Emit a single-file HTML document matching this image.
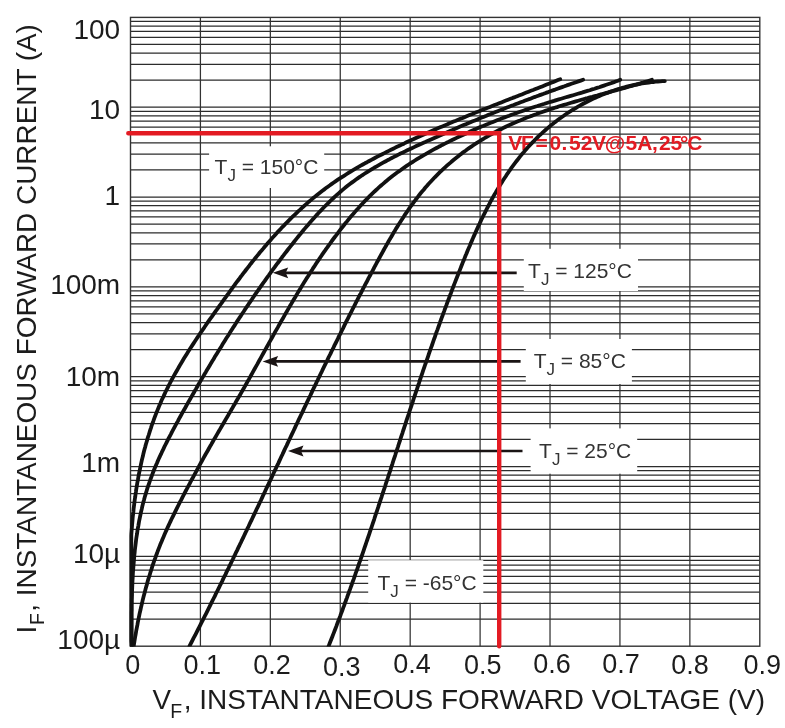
<!DOCTYPE html>
<html><head><meta charset="utf-8"><title>Forward characteristics</title>
<style>html,body{margin:0;padding:0;background:#fff;}svg{display:block;}</style>
</head><body>
<svg width="785" height="728" viewBox="0 0 785 728">
<rect x="0" y="0" width="785" height="728" fill="#fff"/>
<path d="M130.5,80.14H759.8M130.5,64.32H759.8M130.5,53.10H759.8M130.5,44.39H759.8M130.5,37.28H759.8M130.5,31.26H759.8M130.5,26.06H759.8M130.5,21.46H759.8M130.5,169.97H759.8M130.5,154.15H759.8M130.5,142.93H759.8M130.5,134.22H759.8M130.5,127.11H759.8M130.5,121.09H759.8M130.5,115.89H759.8M130.5,111.29H759.8M130.5,107.18H759.8M130.5,259.80H759.8M130.5,243.98H759.8M130.5,232.76H759.8M130.5,224.05H759.8M130.5,216.94H759.8M130.5,210.92H759.8M130.5,205.72H759.8M130.5,201.12H759.8M130.5,197.01H759.8M130.5,349.63H759.8M130.5,333.81H759.8M130.5,322.59H759.8M130.5,313.88H759.8M130.5,306.77H759.8M130.5,300.75H759.8M130.5,295.55H759.8M130.5,290.95H759.8M130.5,286.84H759.8M130.5,439.46H759.8M130.5,423.64H759.8M130.5,412.42H759.8M130.5,403.71H759.8M130.5,396.60H759.8M130.5,390.58H759.8M130.5,385.38H759.8M130.5,380.78H759.8M130.5,376.67H759.8M130.5,529.29H759.8M130.5,513.47H759.8M130.5,502.25H759.8M130.5,493.54H759.8M130.5,486.43H759.8M130.5,480.41H759.8M130.5,475.21H759.8M130.5,470.61H759.8M130.5,466.50H759.8M130.5,619.12H759.8M130.5,603.30H759.8M130.5,592.08H759.8M130.5,583.37H759.8M130.5,576.26H759.8M130.5,570.24H759.8M130.5,565.04H759.8M130.5,560.44H759.8M130.5,556.33H759.8" stroke="#2c2c2c" stroke-width="1.25" fill="none"/>
<path d="M200.42,17.4V646.2M270.34,17.4V646.2M340.26,17.4V646.2M410.18,17.4V646.2M480.10,17.4V646.2M550.02,17.4V646.2M619.94,17.4V646.2M689.86,17.4V646.2" stroke="#333" stroke-width="1.25" fill="none"/>
<rect x="130.5" y="17.4" width="629.3" height="628.8" stroke="#333" stroke-width="1.4" fill="none"/>
<rect x="209.1" y="146.3" width="115.1" height="41.7" fill="#fff"/>
<rect x="523.8" y="248.8" width="114.2" height="42.2" fill="#fff"/>
<rect x="525.8" y="339" width="106.1" height="45.0" fill="#fff"/>
<rect x="530.6" y="428.4" width="106.6" height="45.3" fill="#fff"/>
<rect x="368.2" y="560.2" width="115.1" height="42.4" fill="#fff"/>
<text x="508.3 520.9 535.5 549.5 561.6 568.9 580.7 591.9 604.8 625.6 637.2 651.9 659.1 670.4 680.0 687.3" y="150.3" font-family="Liberation Sans, sans-serif" font-weight="bold" font-size="21.0" fill="#e31b23">VF=0.52V@5A,25°C</text>
<defs><clipPath id="pc"><rect x="120" y="0" width="660" height="646.6"/></clipPath></defs>
<g clip-path="url(#pc)">
<path d="M131.6,645.8 L131.5,643.4 L131.3,641.0 L131.3,638.6 L131.3,636.2 L131.3,633.8 L131.3,631.4 L131.3,629.0 L131.3,626.6 L131.3,624.2 L131.3,621.8 L131.3,619.4 L131.3,617.0 L131.3,614.5 L131.3,612.1 L131.3,609.7 L131.3,607.3 L131.3,604.8 L131.3,602.4 L131.3,599.9 L131.3,597.5 L131.3,595.0 L131.3,592.6 L131.3,590.2 L131.3,587.7 L131.3,585.2 L131.3,582.8 L131.3,580.3 L131.3,577.9 L131.3,575.4 L131.3,573.0 L131.3,570.5 L131.3,568.0 L131.3,565.6 L131.3,563.1 L131.3,560.7 L131.3,558.2 L131.3,555.7 L131.3,553.3 L131.3,550.8 L131.3,548.3 L131.3,545.9 L131.3,543.4 L131.3,541.0 L131.3,538.5 L131.3,536.0 L131.4,533.6 L131.6,531.1 L131.8,528.7 L132.0,526.2 L132.2,523.7 L132.4,521.3 L132.6,518.8 L132.8,516.4 L133.1,513.9 L133.4,511.5 L133.6,509.1 L133.9,506.6 L134.2,504.2 L134.5,501.7 L134.8,499.3 L135.2,496.9 L135.5,494.4 L135.9,492.0 L136.2,489.6 L136.6,487.2 L137.0,484.8 L137.4,482.3 L137.9,479.9 L138.3,477.5 L138.7,475.1 L139.2,472.7 L139.7,470.3 L140.2,467.9 L140.7,465.6 L141.2,463.2 L141.7,460.8 L142.3,458.4 L142.9,456.1 L143.4,453.7 L144.0,451.3 L144.6,449.0 L145.3,446.6 L145.9,444.3 L146.6,442.0 L147.3,439.6 L147.9,437.3 L148.7,435.0 L149.4,432.7 L150.1,430.4 L150.9,428.1 L151.6,425.8 L152.4,423.5 L153.3,421.2 L154.1,418.9 L154.9,416.7 L155.8,414.4 L156.7,412.1 L157.6,409.9 L158.5,407.7 L159.4,405.4 L160.4,403.2 L161.3,401.0 L162.3,398.8 L163.4,396.6 L164.4,394.4 L165.4,392.2 L166.5,390.0 L167.6,387.8 L168.7,385.7 L169.8,383.5 L170.9,381.4 L172.0,379.2 L173.2,377.1 L174.4,374.9 L175.6,372.8 L176.8,370.7 L178.0,368.6 L179.2,366.5 L180.4,364.4 L181.7,362.3 L182.9,360.2 L184.2,358.1 L185.5,356.0 L186.8,353.9 L188.1,351.8 L189.4,349.8 L190.7,347.7 L192.1,345.6 L193.4,343.6 L194.8,341.5 L196.1,339.5 L197.5,337.4 L198.9,335.4 L200.2,333.4 L201.6,331.3 L203.0,329.3 L204.4,327.3 L205.8,325.2 L207.2,323.2 L208.6,321.2 L210.0,319.2 L211.5,317.2 L212.9,315.1 L214.3,313.1 L215.7,311.1 L217.2,309.1 L218.6,307.1 L220.0,305.1 L221.5,303.1 L222.9,301.1 L224.3,299.1 L225.8,297.1 L227.2,295.1 L228.7,293.1 L230.1,291.1 L231.6,289.1 L233.0,287.2 L234.5,285.2 L235.9,283.2 L237.4,281.2 L238.9,279.3 L240.3,277.3 L241.8,275.4 L243.3,273.4 L244.8,271.5 L246.3,269.5 L247.8,267.6 L249.3,265.7 L250.8,263.7 L252.3,261.8 L253.9,259.9 L255.4,258.0 L256.9,256.1 L258.5,254.2 L260.0,252.3 L261.6,250.5 L263.2,248.6 L264.7,246.7 L266.3,244.9 L267.9,243.0 L269.5,241.2 L271.1,239.4 L272.7,237.5 L274.4,235.7 L276.0,233.9 L277.6,232.1 L279.3,230.3 L281.0,228.6 L282.6,226.8 L284.3,225.1 L286.0,223.3 L287.7,221.6 L289.4,219.9 L291.1,218.1 L292.9,216.4 L294.6,214.8 L296.4,213.1 L298.1,211.4 L299.9,209.8 L301.7,208.1 L303.5,206.5 L305.3,204.9 L307.1,203.3 L308.9,201.7 L310.8,200.1 L312.6,198.6 L314.5,197.1 L316.4,195.5 L318.3,194.0 L320.2,192.5 L322.1,191.0 L324.0,189.6 L326.0,188.1 L327.9,186.7 L329.9,185.3 L331.8,183.9 L333.8,182.5 L335.8,181.1 L337.9,179.7 L339.9,178.4 L341.9,177.1 L344.0,175.8 L346.0,174.5 L348.1,173.2 L350.2,171.9 L352.2,170.6 L354.3,169.4 L356.4,168.2 L358.6,166.9 L360.7,165.7 L362.8,164.5 L364.9,163.3 L367.1,162.2 L369.2,161.0 L371.4,159.8 L373.5,158.7 L375.7,157.5 L377.9,156.4 L380.1,155.3 L382.2,154.2 L384.4,153.1 L386.6,152.0 L388.8,150.9 L391.0,149.8 L393.2,148.7 L395.4,147.6 L397.6,146.6 L399.9,145.5 L402.1,144.4 L404.3,143.4 L406.5,142.3 L408.7,141.3 L411.0,140.3 L413.2,139.3 L415.4,138.2 L417.6,137.2 L419.9,136.2 L422.1,135.2 L424.4,134.2 L426.6,133.2 L428.8,132.2 L431.1,131.2 L433.3,130.3 L435.6,129.3 L437.8,128.3 L440.1,127.3 L442.3,126.4 L444.6,125.4 L446.9,124.5 L449.1,123.5 L451.4,122.6 L453.6,121.6 L455.9,120.7 L458.2,119.7 L460.4,118.8 L462.7,117.9 L465.0,116.9 L467.2,116.0 L469.5,115.1 L471.8,114.2 L474.0,113.3 L476.3,112.3 L478.6,111.4 L480.9,110.5 L483.1,109.6 L485.4,108.7 L487.7,107.8 L490.0,106.9 L492.2,106.0 L494.5,105.1 L496.8,104.2 L499.1,103.3 L501.3,102.4 L503.6,101.5 L505.9,100.6 L508.1,99.7 L510.4,98.8 L512.7,97.9 L515.0,97.1 L517.2,96.2 L519.5,95.3 L521.8,94.4 L524.0,93.5 L526.3,92.6 L528.6,91.7 L530.8,90.8 L533.1,90.0 L535.4,89.1 L537.6,88.2 L539.9,87.3 L542.2,86.4 L544.4,85.5 L546.7,84.6 L548.9,83.7 L551.2,82.8 L553.4,81.9 L555.7,81.0 L557.9,80.1 L560.2,79.2" stroke="#111" stroke-width="3.8" fill="none" stroke-linecap="round" stroke-linejoin="round"/>
<path d="M131.6,646.4 L131.6,644.0 L131.6,641.6 L131.6,639.2 L131.6,636.8 L131.6,634.4 L131.6,632.0 L131.6,629.5 L131.6,627.1 L131.6,624.7 L131.6,622.2 L131.6,619.8 L131.6,617.3 L131.6,614.9 L131.6,612.4 L131.7,610.0 L131.7,607.5 L131.7,605.1 L131.8,602.6 L131.8,600.1 L131.9,597.7 L132.0,595.2 L132.0,592.7 L132.1,590.2 L132.2,587.8 L132.3,585.3 L132.4,582.8 L132.5,580.3 L132.7,577.8 L132.8,575.4 L132.9,572.9 L133.1,570.4 L133.3,567.9 L133.5,565.4 L133.7,563.0 L133.9,560.5 L134.1,558.0 L134.3,555.5 L134.6,553.1 L134.8,550.6 L135.1,548.1 L135.4,545.7 L135.7,543.2 L136.0,540.7 L136.3,538.3 L136.7,535.8 L137.1,533.4 L137.4,530.9 L137.8,528.5 L138.3,526.1 L138.7,523.6 L139.1,521.2 L139.6,518.8 L140.1,516.4 L140.6,514.0 L141.1,511.6 L141.7,509.2 L142.2,506.8 L142.8,504.4 L143.4,502.0 L144.1,499.6 L144.7,497.3 L145.4,494.9 L146.1,492.6 L146.8,490.2 L147.5,487.9 L148.3,485.6 L149.1,483.3 L149.9,481.0 L150.7,478.7 L151.6,476.4 L152.4,474.1 L153.3,471.8 L154.2,469.5 L155.1,467.3 L156.1,465.0 L157.1,462.8 L158.0,460.5 L159.0,458.3 L160.0,456.1 L161.1,453.9 L162.1,451.6 L163.2,449.4 L164.2,447.2 L165.3,445.0 L166.4,442.8 L167.5,440.6 L168.6,438.4 L169.7,436.3 L170.9,434.1 L172.0,431.9 L173.2,429.7 L174.3,427.6 L175.5,425.4 L176.7,423.2 L177.9,421.1 L179.0,418.9 L180.2,416.8 L181.4,414.6 L182.6,412.4 L183.8,410.3 L185.0,408.2 L186.2,406.0 L187.4,403.9 L188.6,401.7 L189.9,399.6 L191.1,397.4 L192.3,395.3 L193.5,393.2 L194.7,391.0 L196.0,388.9 L197.2,386.8 L198.4,384.6 L199.7,382.5 L200.9,380.4 L202.1,378.3 L203.4,376.1 L204.6,374.0 L205.9,371.9 L207.1,369.8 L208.4,367.7 L209.7,365.6 L210.9,363.4 L212.2,361.3 L213.5,359.2 L214.7,357.1 L216.0,355.0 L217.3,352.9 L218.6,350.8 L219.9,348.7 L221.2,346.7 L222.4,344.6 L223.7,342.5 L225.0,340.4 L226.3,338.3 L227.7,336.2 L229.0,334.2 L230.3,332.1 L231.6,330.0 L232.9,327.9 L234.3,325.9 L235.6,323.8 L236.9,321.7 L238.3,319.7 L239.6,317.6 L241.0,315.6 L242.3,313.5 L243.7,311.5 L245.0,309.4 L246.4,307.4 L247.8,305.4 L249.1,303.3 L250.5,301.3 L251.9,299.3 L253.3,297.2 L254.7,295.2 L256.1,293.2 L257.5,291.2 L258.9,289.1 L260.3,287.1 L261.7,285.1 L263.1,283.1 L264.6,281.1 L266.0,279.1 L267.4,277.1 L268.9,275.1 L270.3,273.1 L271.7,271.2 L273.2,269.2 L274.7,267.2 L276.1,265.2 L277.6,263.2 L279.1,261.3 L280.5,259.3 L282.0,257.3 L283.5,255.4 L285.0,253.4 L286.5,251.5 L288.0,249.5 L289.5,247.6 L291.1,245.6 L292.6,243.7 L294.1,241.8 L295.6,239.9 L297.2,237.9 L298.7,236.0 L300.3,234.1 L301.8,232.2 L303.4,230.3 L305.0,228.4 L306.6,226.5 L308.2,224.7 L309.8,222.8 L311.4,220.9 L313.0,219.1 L314.7,217.3 L316.3,215.4 L318.0,213.6 L319.6,211.8 L321.3,210.1 L323.0,208.3 L324.7,206.5 L326.4,204.8 L328.2,203.1 L329.9,201.4 L331.7,199.7 L333.5,198.0 L335.2,196.4 L337.1,194.7 L338.9,193.1 L340.7,191.5 L342.6,189.9 L344.4,188.4 L346.3,186.8 L348.2,185.3 L350.2,183.8 L352.1,182.4 L354.1,180.9 L356.0,179.5 L358.0,178.1 L360.1,176.7 L362.1,175.3 L364.1,174.0 L366.2,172.7 L368.3,171.3 L370.3,170.1 L372.4,168.8 L374.5,167.5 L376.7,166.3 L378.8,165.1 L380.9,163.9 L383.1,162.7 L385.3,161.5 L387.4,160.3 L389.6,159.2 L391.8,158.0 L394.0,156.9 L396.2,155.8 L398.4,154.6 L400.6,153.5 L402.9,152.5 L405.1,151.4 L407.3,150.3 L409.6,149.2 L411.8,148.2 L414.1,147.1 L416.3,146.1 L418.6,145.0 L420.8,144.0 L423.0,143.0 L425.3,142.0 L427.6,140.9 L429.8,139.9 L432.1,138.9 L434.3,137.9 L436.6,136.9 L438.8,135.9 L441.1,134.9 L443.3,133.9 L445.6,132.9 L447.8,131.9 L450.1,130.9 L452.4,130.0 L454.6,129.0 L456.9,128.0 L459.1,127.1 L461.4,126.1 L463.7,125.1 L465.9,124.2 L468.2,123.2 L470.5,122.3 L472.7,121.3 L475.0,120.4 L477.3,119.5 L479.5,118.5 L481.8,117.6 L484.1,116.7 L486.4,115.8 L488.6,114.8 L490.9,113.9 L493.2,113.0 L495.5,112.1 L497.7,111.2 L500.0,110.3 L502.3,109.4 L504.6,108.5 L506.9,107.6 L509.2,106.7 L511.4,105.8 L513.7,105.0 L516.0,104.1 L518.3,103.2 L520.6,102.3 L522.9,101.5 L525.2,100.6 L527.5,99.7 L529.8,98.9 L532.1,98.0 L534.4,97.1 L536.7,96.3 L539.0,95.4 L541.3,94.6 L543.6,93.8 L545.9,92.9 L548.2,92.1 L550.5,91.2 L552.8,90.4 L555.2,89.6 L557.5,88.7 L559.8,87.9 L562.1,87.1 L564.4,86.3 L566.7,85.4 L569.1,84.6 L571.4,83.8 L573.7,83.0 L576.1,82.2 L578.4,81.4 L580.7,80.6 L583.1,79.8" stroke="#111" stroke-width="3.8" fill="none" stroke-linecap="round" stroke-linejoin="round"/>
<path d="M133.6,647.1 L133.9,644.6 L134.3,642.1 L134.7,639.7 L135.1,637.2 L135.6,634.7 L136.0,632.3 L136.4,629.8 L136.9,627.4 L137.4,624.9 L137.8,622.5 L138.3,620.0 L138.8,617.6 L139.3,615.1 L139.8,612.7 L140.4,610.3 L140.9,607.8 L141.5,605.4 L142.1,603.0 L142.6,600.5 L143.2,598.1 L143.8,595.7 L144.5,593.3 L145.1,590.9 L145.7,588.5 L146.4,586.1 L147.1,583.7 L147.7,581.3 L148.4,578.9 L149.2,576.5 L149.9,574.2 L150.6,571.8 L151.4,569.4 L152.1,567.1 L152.9,564.7 L153.7,562.4 L154.5,560.0 L155.4,557.7 L156.2,555.3 L157.1,553.0 L157.9,550.7 L158.8,548.4 L159.7,546.1 L160.6,543.8 L161.6,541.5 L162.5,539.2 L163.5,536.9 L164.5,534.6 L165.5,532.3 L166.5,530.1 L167.5,527.8 L168.5,525.6 L169.6,523.3 L170.6,521.1 L171.7,518.8 L172.8,516.6 L173.9,514.4 L175.0,512.1 L176.1,509.9 L177.2,507.7 L178.3,505.5 L179.4,503.2 L180.6,501.0 L181.7,498.8 L182.8,496.6 L184.0,494.4 L185.1,492.2 L186.3,490.0 L187.4,487.8 L188.6,485.6 L189.8,483.4 L190.9,481.2 L192.1,479.0 L193.3,476.8 L194.5,474.6 L195.7,472.4 L196.8,470.3 L198.0,468.1 L199.2,465.9 L200.4,463.7 L201.6,461.5 L202.8,459.4 L204.0,457.2 L205.2,455.0 L206.5,452.8 L207.7,450.7 L208.9,448.5 L210.1,446.3 L211.4,444.2 L212.6,442.0 L213.8,439.9 L215.1,437.7 L216.3,435.6 L217.6,433.4 L218.8,431.3 L220.1,429.1 L221.3,427.0 L222.6,424.8 L223.8,422.7 L225.1,420.5 L226.3,418.4 L227.6,416.3 L228.8,414.1 L230.1,412.0 L231.3,409.8 L232.6,407.7 L233.8,405.5 L235.1,403.4 L236.3,401.2 L237.6,399.1 L238.8,396.9 L240.1,394.8 L241.3,392.6 L242.5,390.5 L243.8,388.3 L245.0,386.1 L246.2,384.0 L247.4,381.8 L248.7,379.6 L249.9,377.4 L251.1,375.3 L252.3,373.1 L253.5,370.9 L254.7,368.8 L255.9,366.6 L257.2,364.4 L258.4,362.2 L259.6,360.0 L260.8,357.9 L262.0,355.7 L263.2,353.5 L264.4,351.3 L265.6,349.1 L266.8,347.0 L268.0,344.8 L269.2,342.6 L270.5,340.4 L271.7,338.3 L272.9,336.1 L274.1,333.9 L275.3,331.7 L276.5,329.6 L277.8,327.4 L279.0,325.2 L280.2,323.0 L281.4,320.9 L282.7,318.7 L283.9,316.6 L285.1,314.4 L286.4,312.2 L287.6,310.1 L288.9,307.9 L290.1,305.8 L291.4,303.6 L292.6,301.5 L293.9,299.3 L295.2,297.2 L296.4,295.1 L297.7,292.9 L299.0,290.8 L300.3,288.7 L301.6,286.6 L302.9,284.4 L304.2,282.3 L305.5,280.2 L306.8,278.1 L308.2,276.0 L309.5,273.9 L310.8,271.8 L312.2,269.7 L313.5,267.6 L314.9,265.6 L316.2,263.5 L317.6,261.4 L319.0,259.4 L320.4,257.3 L321.8,255.2 L323.2,253.2 L324.6,251.2 L326.0,249.1 L327.5,247.1 L328.9,245.1 L330.4,243.1 L331.8,241.0 L333.3,239.0 L334.8,237.0 L336.3,235.1 L337.8,233.1 L339.3,231.1 L340.8,229.1 L342.3,227.2 L343.9,225.2 L345.4,223.3 L347.0,221.4 L348.6,219.4 L350.1,217.5 L351.8,215.6 L353.4,213.8 L355.0,211.9 L356.6,210.0 L358.3,208.2 L360.0,206.3 L361.6,204.5 L363.3,202.7 L365.0,200.9 L366.8,199.1 L368.5,197.4 L370.2,195.6 L372.0,193.9 L373.8,192.2 L375.6,190.5 L377.4,188.8 L379.2,187.2 L381.1,185.5 L383.0,183.9 L384.8,182.3 L386.7,180.7 L388.7,179.1 L390.6,177.6 L392.5,176.1 L394.5,174.6 L396.5,173.1 L398.5,171.6 L400.5,170.2 L402.5,168.7 L404.5,167.3 L406.6,165.9 L408.7,164.5 L410.7,163.2 L412.8,161.8 L414.9,160.5 L417.0,159.2 L419.2,157.9 L421.3,156.6 L423.4,155.3 L425.6,154.1 L427.8,152.8 L429.9,151.6 L432.1,150.4 L434.3,149.2 L436.5,148.0 L438.7,146.8 L440.9,145.7 L443.1,144.5 L445.4,143.4 L447.6,142.3 L449.8,141.1 L452.1,140.0 L454.3,139.0 L456.6,137.9 L458.8,136.8 L461.1,135.7 L463.3,134.7 L465.6,133.7 L467.9,132.6 L470.1,131.6 L472.4,130.6 L474.7,129.6 L477.0,128.6 L479.2,127.6 L481.5,126.6 L483.8,125.7 L486.1,124.7 L488.4,123.8 L490.7,122.8 L493.0,121.9 L495.3,121.0 L497.6,120.1 L499.9,119.2 L502.2,118.3 L504.6,117.4 L506.9,116.5 L509.2,115.7 L511.5,114.8 L513.9,114.0 L516.2,113.1 L518.5,112.3 L520.9,111.5 L523.2,110.7 L525.6,109.9 L527.9,109.1 L530.3,108.3 L532.6,107.5 L535.0,106.7 L537.4,106.0 L539.7,105.2 L542.1,104.5 L544.5,103.8 L546.9,103.0 L549.2,102.3 L551.6,101.6 L554.0,100.9 L556.4,100.1 L558.8,99.4 L561.2,98.7 L563.5,98.0 L565.9,97.3 L568.3,96.6 L570.7,95.9 L573.1,95.2 L575.5,94.5 L577.9,93.8 L580.3,93.1 L582.6,92.4 L585.0,91.6 L587.4,90.9 L589.8,90.2 L592.1,89.4 L594.5,88.7 L596.9,87.9 L599.2,87.2 L601.6,86.4 L603.9,85.6 L606.3,84.8 L608.6,84.0 L610.9,83.2 L613.3,82.4 L615.6,81.5 L617.9,80.7 L620.2,79.8" stroke="#111" stroke-width="3.8" fill="none" stroke-linecap="round" stroke-linejoin="round"/>
<path d="M189.4,646.3 L190.5,644.1 L191.6,642.0 L192.7,639.8 L193.8,637.6 L195.0,635.5 L196.1,633.3 L197.2,631.1 L198.3,629.0 L199.4,626.8 L200.5,624.6 L201.6,622.4 L202.7,620.3 L203.8,618.1 L204.9,615.9 L206.0,613.8 L207.1,611.6 L208.2,609.4 L209.3,607.2 L210.3,605.1 L211.4,602.9 L212.5,600.7 L213.6,598.5 L214.7,596.4 L215.7,594.2 L216.8,592.0 L217.9,589.8 L219.0,587.6 L220.0,585.5 L221.1,583.3 L222.2,581.1 L223.2,578.9 L224.3,576.7 L225.4,574.6 L226.4,572.4 L227.5,570.2 L228.6,568.0 L229.6,565.8 L230.7,563.7 L231.7,561.5 L232.8,559.3 L233.8,557.1 L234.9,554.9 L235.9,552.7 L237.0,550.6 L238.0,548.4 L239.1,546.2 L240.1,544.0 L241.2,541.8 L242.2,539.6 L243.3,537.5 L244.3,535.3 L245.3,533.1 L246.4,530.9 L247.4,528.7 L248.5,526.5 L249.5,524.3 L250.5,522.1 L251.6,520.0 L252.6,517.8 L253.6,515.6 L254.7,513.4 L255.7,511.2 L256.7,509.0 L257.8,506.8 L258.8,504.7 L259.8,502.5 L260.9,500.3 L261.9,498.1 L262.9,495.9 L264.0,493.7 L265.0,491.5 L266.0,489.3 L267.0,487.1 L268.1,485.0 L269.1,482.8 L270.1,480.6 L271.2,478.4 L272.2,476.2 L273.2,474.0 L274.2,471.8 L275.3,469.6 L276.3,467.5 L277.3,465.3 L278.4,463.1 L279.4,460.9 L280.4,458.7 L281.4,456.5 L282.5,454.3 L283.5,452.1 L284.5,449.9 L285.5,447.8 L286.6,445.6 L287.6,443.4 L288.6,441.2 L289.7,439.0 L290.7,436.8 L291.7,434.6 L292.8,432.4 L293.8,430.3 L294.8,428.1 L295.8,425.9 L296.9,423.7 L297.9,421.5 L298.9,419.3 L300.0,417.1 L301.0,415.0 L302.1,412.8 L303.1,410.6 L304.1,408.4 L305.2,406.2 L306.2,404.0 L307.2,401.8 L308.3,399.7 L309.3,397.5 L310.4,395.3 L311.4,393.1 L312.4,390.9 L313.5,388.7 L314.5,386.6 L315.6,384.4 L316.6,382.2 L317.7,380.0 L318.7,377.8 L319.8,375.6 L320.8,373.5 L321.9,371.3 L322.9,369.1 L324.0,366.9 L325.1,364.7 L326.1,362.6 L327.2,360.4 L328.2,358.2 L329.3,356.0 L330.4,353.9 L331.4,351.7 L332.5,349.5 L333.6,347.3 L334.6,345.1 L335.7,343.0 L336.8,340.8 L337.9,338.6 L338.9,336.4 L340.0,334.3 L341.1,332.1 L342.2,329.9 L343.3,327.8 L344.3,325.6 L345.4,323.4 L346.5,321.2 L347.6,319.1 L348.7,316.9 L349.8,314.7 L350.9,312.6 L352.0,310.4 L353.1,308.2 L354.2,306.1 L355.3,303.9 L356.4,301.7 L357.5,299.6 L358.6,297.4 L359.7,295.2 L360.9,293.1 L362.0,290.9 L363.1,288.7 L364.2,286.6 L365.3,284.4 L366.5,282.3 L367.6,280.1 L368.7,277.9 L369.9,275.8 L371.0,273.6 L372.2,271.5 L373.3,269.3 L374.4,267.1 L375.6,265.0 L376.7,262.8 L377.9,260.7 L379.1,258.5 L380.2,256.4 L381.4,254.3 L382.6,252.1 L383.7,250.0 L384.9,247.8 L386.1,245.7 L387.3,243.6 L388.5,241.5 L389.7,239.4 L391.0,237.3 L392.2,235.2 L393.4,233.1 L394.7,231.0 L395.9,228.9 L397.2,226.9 L398.5,224.8 L399.8,222.7 L401.1,220.7 L402.4,218.7 L403.7,216.7 L405.0,214.6 L406.4,212.6 L407.7,210.7 L409.1,208.7 L410.5,206.7 L411.9,204.8 L413.3,202.8 L414.8,200.9 L416.2,199.0 L417.7,197.1 L419.1,195.2 L420.6,193.3 L422.1,191.5 L423.7,189.7 L425.2,187.8 L426.8,186.0 L428.3,184.2 L429.9,182.5 L431.6,180.7 L433.2,179.0 L434.8,177.3 L436.5,175.6 L438.2,173.9 L439.9,172.2 L441.6,170.6 L443.4,168.9 L445.1,167.3 L446.9,165.7 L448.7,164.1 L450.5,162.6 L452.3,161.0 L454.1,159.5 L456.0,158.0 L457.9,156.5 L459.7,155.0 L461.6,153.6 L463.5,152.1 L465.5,150.7 L467.4,149.3 L469.4,147.9 L471.3,146.6 L473.3,145.2 L475.3,143.9 L477.3,142.6 L479.4,141.3 L481.4,140.0 L483.4,138.8 L485.5,137.5 L487.6,136.3 L489.7,135.1 L491.8,134.0 L493.9,132.8 L496.0,131.7 L498.2,130.5 L500.3,129.4 L502.5,128.4 L504.7,127.3 L506.8,126.3 L509.0,125.2 L511.2,124.2 L513.5,123.2 L515.7,122.3 L517.9,121.3 L520.2,120.4 L522.4,119.4 L524.7,118.5 L526.9,117.6 L529.2,116.7 L531.5,115.9 L533.8,115.0 L536.1,114.2 L538.4,113.3 L540.7,112.5 L543.0,111.7 L545.3,110.9 L547.7,110.1 L550.0,109.3 L552.3,108.6 L554.7,107.8 L557.0,107.1 L559.3,106.3 L561.7,105.6 L564.0,104.9 L566.4,104.2 L568.7,103.5 L571.1,102.8 L573.4,102.1 L575.8,101.4 L578.2,100.7 L580.5,100.0 L582.9,99.4 L585.2,98.7 L587.6,98.1 L589.9,97.4 L592.3,96.8 L594.7,96.1 L597.0,95.5 L599.4,94.8 L601.7,94.2 L604.0,93.5 L606.4,92.9 L608.7,92.3 L611.0,91.6 L613.4,91.0 L615.7,90.4 L618.0,89.7 L620.3,89.1 L622.6,88.4 L624.9,87.8 L627.2,87.2 L629.5,86.5 L631.8,85.9 L634.1,85.2 L636.3,84.6 L638.6,83.9 L640.8,83.2 L643.1,82.6 L645.3,81.9 L647.5,81.2 L649.7,80.5 L651.9,79.8" stroke="#111" stroke-width="3.8" fill="none" stroke-linecap="round" stroke-linejoin="round"/>
<path d="M328.3,646.9 L329.1,644.9 L329.9,642.8 L330.7,640.8 L331.5,638.7 L332.3,636.7 L333.1,634.6 L333.9,632.6 L334.7,630.5 L335.5,628.5 L336.3,626.4 L337.0,624.4 L337.8,622.3 L338.6,620.3 L339.4,618.2 L340.2,616.2 L340.9,614.1 L341.7,612.0 L342.5,610.0 L343.2,607.9 L344.0,605.9 L344.7,603.8 L345.5,601.8 L346.2,599.7 L347.0,597.6 L347.7,595.6 L348.5,593.5 L349.2,591.5 L350.0,589.4 L350.7,587.4 L351.5,585.3 L352.2,583.2 L352.9,581.2 L353.7,579.1 L354.4,577.1 L355.1,575.0 L355.8,572.9 L356.6,570.9 L357.3,568.8 L358.0,566.8 L358.7,564.7 L359.4,562.6 L360.2,560.6 L360.9,558.5 L361.6,556.5 L362.3,554.4 L363.0,552.3 L363.7,550.3 L364.4,548.2 L365.1,546.1 L365.8,544.1 L366.5,542.0 L367.2,540.0 L367.9,537.9 L368.6,535.8 L369.3,533.8 L370.0,531.7 L370.7,529.6 L371.4,527.6 L372.1,525.5 L372.8,523.4 L373.5,521.4 L374.2,519.3 L374.8,517.3 L375.5,515.2 L376.2,513.1 L376.9,511.1 L377.6,509.0 L378.3,506.9 L378.9,504.9 L379.6,502.8 L380.3,500.7 L381.0,498.7 L381.7,496.6 L382.3,494.5 L383.0,492.5 L383.7,490.4 L384.4,488.4 L385.1,486.3 L385.7,484.2 L386.4,482.2 L387.1,480.1 L387.8,478.0 L388.4,476.0 L389.1,473.9 L389.8,471.8 L390.5,469.8 L391.1,467.7 L391.8,465.6 L392.5,463.6 L393.1,461.5 L393.8,459.4 L394.5,457.4 L395.2,455.3 L395.8,453.2 L396.5,451.2 L397.2,449.1 L397.9,447.0 L398.5,445.0 L399.2,442.9 L399.9,440.9 L400.5,438.8 L401.2,436.7 L401.9,434.7 L402.6,432.6 L403.2,430.5 L403.9,428.5 L404.6,426.4 L405.3,424.3 L405.9,422.3 L406.6,420.2 L407.3,418.1 L408.0,416.1 L408.7,414.0 L409.3,412.0 L410.0,409.9 L410.7,407.8 L411.4,405.8 L412.1,403.7 L412.8,401.6 L413.4,399.6 L414.1,397.5 L414.8,395.5 L415.5,393.4 L416.2,391.3 L416.9,389.3 L417.6,387.2 L418.3,385.1 L419.0,383.1 L419.6,381.0 L420.3,379.0 L421.0,376.9 L421.7,374.8 L422.4,372.8 L423.1,370.7 L423.8,368.7 L424.5,366.6 L425.2,364.5 L426.0,362.5 L426.7,360.4 L427.4,358.4 L428.1,356.3 L428.8,354.2 L429.5,352.2 L430.2,350.1 L430.9,348.1 L431.7,346.0 L432.4,344.0 L433.1,341.9 L433.8,339.8 L434.6,337.8 L435.3,335.7 L436.0,333.7 L436.7,331.6 L437.5,329.6 L438.2,327.5 L439.0,325.5 L439.7,323.4 L440.4,321.3 L441.2,319.3 L441.9,317.2 L442.7,315.2 L443.4,313.1 L444.2,311.1 L444.9,309.0 L445.7,307.0 L446.5,304.9 L447.2,302.9 L448.0,300.8 L448.8,298.8 L449.5,296.7 L450.3,294.7 L451.1,292.6 L451.8,290.6 L452.6,288.5 L453.4,286.5 L454.2,284.4 L455.0,282.4 L455.8,280.3 L456.6,278.3 L457.4,276.2 L458.2,274.2 L459.0,272.2 L459.8,270.1 L460.6,268.1 L461.4,266.0 L462.2,264.0 L463.0,261.9 L463.9,259.9 L464.7,257.9 L465.5,255.8 L466.4,253.8 L467.2,251.7 L468.0,249.7 L468.9,247.7 L469.8,245.7 L470.6,243.6 L471.5,241.6 L472.4,239.6 L473.2,237.6 L474.1,235.6 L475.0,233.6 L475.9,231.6 L476.8,229.6 L477.7,227.6 L478.6,225.6 L479.6,223.6 L480.5,221.6 L481.4,219.6 L482.4,217.7 L483.3,215.7 L484.3,213.8 L485.3,211.8 L486.3,209.9 L487.3,207.9 L488.3,206.0 L489.3,204.1 L490.3,202.1 L491.3,200.2 L492.4,198.3 L493.4,196.4 L494.5,194.5 L495.6,192.7 L496.7,190.8 L497.8,188.9 L498.9,187.1 L500.0,185.2 L501.1,183.4 L502.3,181.6 L503.4,179.8 L504.6,178.0 L505.8,176.2 L506.9,174.4 L508.2,172.6 L509.4,170.8 L510.6,169.1 L511.8,167.3 L513.1,165.6 L514.4,163.9 L515.7,162.2 L517.0,160.5 L518.3,158.8 L519.6,157.1 L521.0,155.4 L522.3,153.8 L523.7,152.2 L525.1,150.5 L526.5,148.9 L527.9,147.3 L529.4,145.7 L530.8,144.2 L532.3,142.6 L533.8,141.1 L535.3,139.5 L536.8,138.0 L538.4,136.5 L539.9,135.0 L541.5,133.6 L543.1,132.1 L544.7,130.7 L546.3,129.3 L548.0,127.9 L549.6,126.5 L551.3,125.1 L553.0,123.8 L554.6,122.4 L556.4,121.1 L558.1,119.8 L559.8,118.5 L561.6,117.2 L563.4,116.0 L565.1,114.8 L566.9,113.5 L568.7,112.3 L570.6,111.2 L572.4,110.0 L574.3,108.9 L576.1,107.8 L578.0,106.7 L579.9,105.6 L581.8,104.5 L583.7,103.5 L585.7,102.5 L587.6,101.5 L589.5,100.5 L591.5,99.5 L593.5,98.6 L595.5,97.7 L597.5,96.8 L599.5,95.9 L601.5,95.1 L603.6,94.3 L605.6,93.5 L607.7,92.7 L609.8,91.9 L611.8,91.2 L613.9,90.5 L616.0,89.8 L618.2,89.1 L620.3,88.5 L622.4,87.9 L624.6,87.3 L626.7,86.7 L628.9,86.2 L631.1,85.7 L633.3,85.2 L635.5,84.7 L637.7,84.3 L639.9,83.9 L642.1,83.5 L644.3,83.1 L646.6,82.8 L648.8,82.5 L651.1,82.2 L653.3,82.0 L655.6,81.7 L657.9,81.5 L660.2,81.4 L662.5,81.2 L664.8,81.1" stroke="#111" stroke-width="3.8" fill="none" stroke-linecap="round" stroke-linejoin="round"/>
</g>
<path d="M516.7,272.8H282.7" stroke="#1a1414" stroke-width="2.7" fill="none"/>
<path d="M272.7,272.8 L288.2,267.40000000000003 L285.7,272.8 L288.2,278.2 Z" fill="#1a1414"/>
<path d="M520.6,361.4H272.6" stroke="#1a1414" stroke-width="2.7" fill="none"/>
<path d="M262.6,361.4 L278.1,356.0 L275.6,361.4 L278.1,366.79999999999995 Z" fill="#1a1414"/>
<path d="M522.5,451.0H298.0" stroke="#1a1414" stroke-width="2.7" fill="none"/>
<path d="M288.0,451.0 L303.5,445.6 L301.0,451.0 L303.5,456.4 Z" fill="#1a1414"/>
<path d="M128.3,133.2 H499.2 V646.2" stroke="#e31b23" stroke-width="4.4" fill="none" stroke-linecap="round" stroke-linejoin="miter"/>
<text x="214.6" y="174.2" font-family="Liberation Sans, sans-serif" font-size="21" fill="#333">T</text>
<text x="227.4" y="181.0" font-family="Liberation Sans, sans-serif" font-size="17" fill="#333">J</text>
<text x="235.9" y="174.2" font-family="Liberation Sans, sans-serif" font-size="21" fill="#333" xml:space="preserve"> = 150°C</text>
<text x="528.1" y="277.9" font-family="Liberation Sans, sans-serif" font-size="21" fill="#333">T</text>
<text x="540.9" y="284.5" font-family="Liberation Sans, sans-serif" font-size="17" fill="#333">J</text>
<text x="549.4" y="277.9" font-family="Liberation Sans, sans-serif" font-size="21" fill="#333" xml:space="preserve"> = 125°C</text>
<text x="533.7" y="367.9" font-family="Liberation Sans, sans-serif" font-size="21" fill="#333">T</text>
<text x="546.5" y="374.5" font-family="Liberation Sans, sans-serif" font-size="17" fill="#333">J</text>
<text x="555.0" y="367.9" font-family="Liberation Sans, sans-serif" font-size="21" fill="#333" xml:space="preserve"> = 85°C</text>
<text x="539.1" y="458.3" font-family="Liberation Sans, sans-serif" font-size="21" fill="#333">T</text>
<text x="551.9" y="464.6" font-family="Liberation Sans, sans-serif" font-size="17" fill="#333">J</text>
<text x="560.4" y="458.3" font-family="Liberation Sans, sans-serif" font-size="21" fill="#333" xml:space="preserve"> = 25°C</text>
<text x="377.5" y="589.5" font-family="Liberation Sans, sans-serif" font-size="21" fill="#333">T</text>
<text x="390.3" y="596.6" font-family="Liberation Sans, sans-serif" font-size="17" fill="#333">J</text>
<text x="398.8" y="589.5" font-family="Liberation Sans, sans-serif" font-size="21" fill="#333" xml:space="preserve"> = -65°C</text>
<text x="120.2" y="38.6" font-family="Liberation Sans, sans-serif" font-size="28" fill="#1c1c1c" text-anchor="end">100</text>
<text x="120.2" y="118.8" font-family="Liberation Sans, sans-serif" font-size="28" fill="#1c1c1c" text-anchor="end">10</text>
<text x="120.2" y="205.1" font-family="Liberation Sans, sans-serif" font-size="28" fill="#1c1c1c" text-anchor="end">1</text>
<text x="120.2" y="294.4" font-family="Liberation Sans, sans-serif" font-size="28" fill="#1c1c1c" text-anchor="end">100m</text>
<text x="120.2" y="385.8" font-family="Liberation Sans, sans-serif" font-size="28" fill="#1c1c1c" text-anchor="end">10m</text>
<text x="120.2" y="471.7" font-family="Liberation Sans, sans-serif" font-size="28" fill="#1c1c1c" text-anchor="end">1m</text>
<text x="120.2" y="562.5" font-family="Liberation Sans, sans-serif" font-size="28" fill="#1c1c1c" text-anchor="end">10µ</text>
<text x="120.2" y="649.0" font-family="Liberation Sans, sans-serif" font-size="28" fill="#1c1c1c" text-anchor="end">100µ</text>
<text x="132.7" y="674" font-family="Liberation Sans, sans-serif" font-size="27" fill="#1c1c1c" text-anchor="middle">0</text>
<text x="202.3" y="673.5" font-family="Liberation Sans, sans-serif" font-size="27" fill="#1c1c1c" text-anchor="middle">0.1</text>
<text x="271.9" y="673.5" font-family="Liberation Sans, sans-serif" font-size="27" fill="#1c1c1c" text-anchor="middle">0.2</text>
<text x="341.7" y="675.6" font-family="Liberation Sans, sans-serif" font-size="27" fill="#1c1c1c" text-anchor="middle">0.3</text>
<text x="412" y="673" font-family="Liberation Sans, sans-serif" font-size="27" fill="#1c1c1c" text-anchor="middle">0.4</text>
<text x="482.7" y="673.5" font-family="Liberation Sans, sans-serif" font-size="27" fill="#1c1c1c" text-anchor="middle">0.5</text>
<text x="552.1" y="673" font-family="Liberation Sans, sans-serif" font-size="27" fill="#1c1c1c" text-anchor="middle">0.6</text>
<text x="621" y="672.7" font-family="Liberation Sans, sans-serif" font-size="27" fill="#1c1c1c" text-anchor="middle">0.7</text>
<text x="690" y="673.6" font-family="Liberation Sans, sans-serif" font-size="27" fill="#1c1c1c" text-anchor="middle">0.8</text>
<text x="762.3" y="673.6" font-family="Liberation Sans, sans-serif" font-size="27" fill="#1c1c1c" text-anchor="middle">0.9</text>
<text x="152.4" y="709.4" font-family="Liberation Sans, sans-serif" font-size="27.8" fill="#1c1c1c">V</text>
<text x="170.3" y="717.9" font-family="Liberation Sans, sans-serif" font-size="19.5" fill="#1c1c1c">F</text>
<text x="183.7" y="709.4" font-family="Liberation Sans, sans-serif" font-size="27.8" fill="#1c1c1c" textLength="581.3" lengthAdjust="spacingAndGlyphs">, INSTANTANEOUS FORWARD VOLTAGE (V)</text>
<g transform="translate(35.6,633.5) rotate(-90)">
<text x="0" y="0" font-family="Liberation Sans, sans-serif" font-size="27.8" fill="#1c1c1c">I</text>
<text x="8.6" y="8.2" font-family="Liberation Sans, sans-serif" font-size="19.5" fill="#1c1c1c">F</text>
<text x="21.8" y="0" font-family="Liberation Sans, sans-serif" font-size="27.8" fill="#1c1c1c" textLength="587.6" lengthAdjust="spacingAndGlyphs">, INSTANTANEOUS FORWARD CURRENT (A)</text>
</g>
</svg>
</body></html>
